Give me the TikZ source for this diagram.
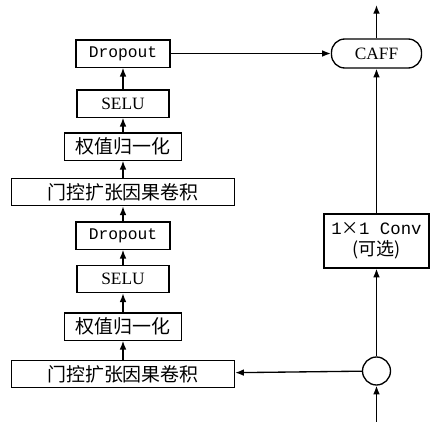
\documentclass[tikz,border=0pt]{standalone}
\usepackage{fontspec}
\setmainfont{Liberation Serif}
\newfontfamily\cjk{Noto Sans CJK SC}
\newfontfamily\mono{Liberation Mono}
\usetikzlibrary{arrows.meta}
\begin{document}
\begin{tikzpicture}[x=0.75pt,y=-0.75pt,
  box/.style={draw,line width=1pt,inner sep=0pt,minimum height=20.5pt},
  cn/.style={font=\cjk\fontsize{14.2pt}{16pt}\selectfont},
  mn/.style={font=\mono\fontsize{12.2pt}{14pt}\selectfont},
  sr/.style={font=\fontsize{13pt}{15pt}\selectfont},
  arr/.style={-{Latex[length=6.5pt,width=5pt]},line width=1pt}]
\useasboundingbox (0,0) rectangle (430,422);
% left column
\node[box,mn,minimum width=70.5pt] (drop1) at (123,53.5) {Dropout};
\node[box,sr,minimum width=69pt] (selu1) at (123,103.5) {SELU};
\node[box,cn,minimum width=87.75pt] (wn1) at (123,146.5) {权值归一化};
\node[box,cn,minimum width=167.25pt] (gc1) at (123,192) {门控扩张因果卷积};
\node[box,mn,minimum width=70.5pt] (drop2) at (123,235.5) {Dropout};
\node[box,sr,minimum width=69pt] (selu2) at (123,279) {SELU};
\node[box,cn,minimum width=87.75pt] (wn2) at (123,326.5) {权值归一化};
\node[box,cn,minimum width=167.25pt] (gc2) at (123,374) {门控扩张因果卷积};
% right column
\node[draw,line width=1pt,sr,minimum width=67.5pt,minimum height=21.75pt,inner sep=0pt,rounded corners=10pt] (caff) at (376.5,53.5) {CAFF};
\node[box,font=\mono\fontsize{13pt}{15pt}\selectfont,minimum width=78.75pt,minimum height=40.5pt,align=center] (conv) at (376.5,241) {1{\cjk ×}1 Conv\\[1pt]{\cjk\fontsize{13.5pt}{15pt}\selectfont (可选)}};
\node[draw,line width=1pt,circle,minimum size=21pt,inner sep=0pt] (circ) at (376.5,371) {};
\coordinate (out) at (376.5,5);
\coordinate (in) at (376.5,422);
% connectors
\draw[arr] (selu1) -- (drop1);
\draw[arr] (wn1) -- (selu1);
\draw[arr] (gc1) -- (wn1);
\draw[arr] (drop2) -- (gc1);
\draw[arr] (selu2) -- (drop2);
\draw[arr] (wn2) -- (selu2);
\draw[arr] (gc2) -- (wn2);
\draw[arr] (drop1) -- (caff);
\draw[arr] (caff) -- (out);
\draw[arr] (conv) -- (caff);
\draw[arr] (circ) -- (conv);
\draw[arr] (in) -- (circ);
\draw[arr] (circ) -- (gc2);
\end{tikzpicture}
\end{document}
